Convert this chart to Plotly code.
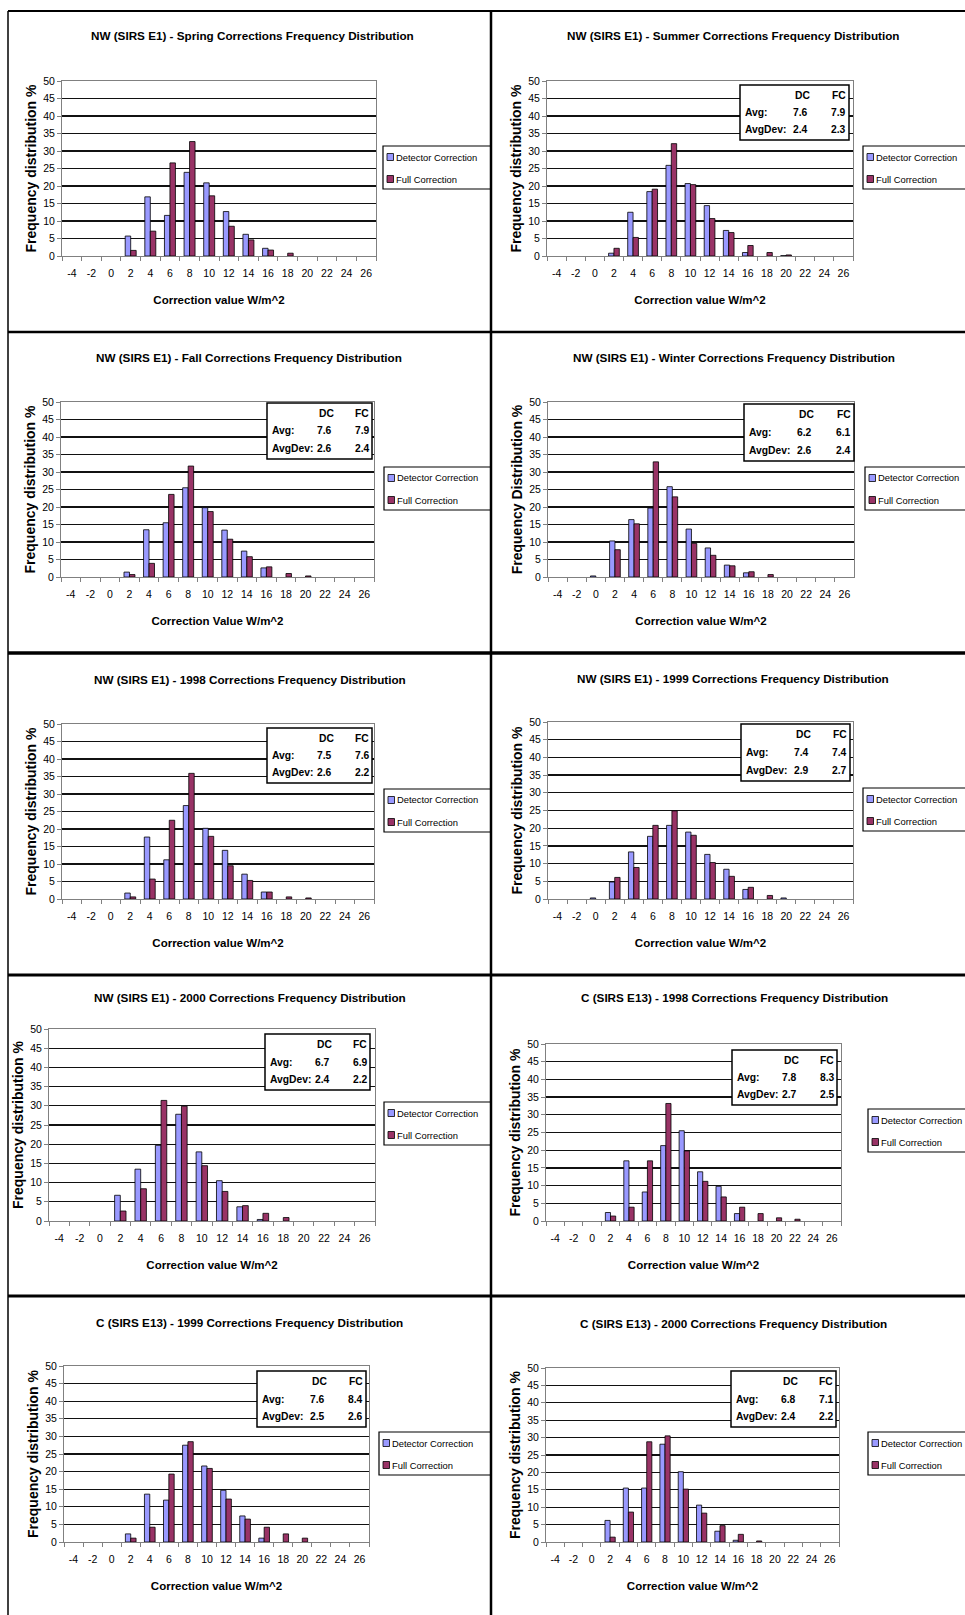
import plotly.graph_objects as go

W, H = 965, 1615

categories = ["-4", "-2", "0", "2", "4", "6", "8", "10", "12", "14", "16", "18", "20", "22", "24", "26"]
series_names = ["Detector Correction", "Full Correction"]
stat_columns = ["DC", "FC"]
stat_rows = ["Avg:", "AvgDev:"]

titles = [
    "NW (SIRS E1) - Spring Corrections Frequency Distribution",
    "NW (SIRS E1) - Summer Corrections Frequency Distribution",
    "NW (SIRS E1) - Fall Corrections Frequency Distribution",
    "NW (SIRS E1) - Winter Corrections Frequency Distribution",
    "NW (SIRS E1) - 1998 Corrections Frequency Distribution",
    "NW (SIRS E1) - 1999 Corrections Frequency Distribution",
    "NW (SIRS E1) - 2000 Corrections Frequency Distribution",
    "C (SIRS E13) - 1998 Corrections Frequency Distribution",
    "C (SIRS E13) - 1999 Corrections Frequency Distribution",
    "C (SIRS E13) - 2000 Corrections Frequency Distribution",
]
x_titles = [
    "Correction value W/m^2", "Correction value W/m^2",
    "Correction Value W/m^2", "Correction value W/m^2",
    "Correction value W/m^2", "Correction value W/m^2",
    "Correction value W/m^2", "Correction value W/m^2",
    "Correction value W/m^2", "Correction value W/m^2",
]
y_titles = [
    "Frequency distribution %", "Frequency distribution %",
    "Frequency distribution %", "Frequency Distribution %",
    "Frequency distribution %", "Frequency distribution %",
    "Frequency distribution %", "Frequency distribution %",
    "Frequency distribution %", "Frequency distribution %",
]

spring_dc = [0, 0, 0, 5.7, 16.9, 11.6, 23.9, 20.9, 12.7, 6.2, 2.2, 0, 0, 0, 0, 0]
spring_fc = [0, 0, 0, 1.6, 7.1, 26.6, 32.7, 17.2, 8.5, 4.6, 1.7, 0.8, 0, 0, 0, 0]

summer_dc = [0, 0, 0, 0.8, 12.5, 18.4, 25.9, 20.7, 14.4, 7.3, 1.0, 0, 0.1, 0, 0, 0]
summer_fc = [0, 0, 0, 2.2, 5.3, 19.1, 32.1, 20.4, 10.7, 6.7, 3.0, 1.0, 0.3, 0, 0, 0]
summer_avg = [7.6, 7.9]
summer_dev = [2.4, 2.3]

fall_dc = [0, 0, 0, 1.4, 13.5, 15.5, 25.5, 19.8, 13.4, 7.4, 2.6, 0, 0, 0, 0, 0]
fall_fc = [0, 0, 0, 0.7, 3.9, 23.6, 31.7, 18.7, 10.8, 5.8, 2.9, 1.0, 0.3, 0, 0, 0]
fall_avg = [7.6, 7.9]
fall_dev = [2.6, 2.4]

winter_dc = [0, 0, 0.3, 10.3, 16.4, 19.7, 25.8, 13.7, 8.3, 3.4, 1.2, 0, 0, 0, 0, 0]
winter_fc = [0, 0, 0, 7.8, 15.2, 32.9, 22.9, 9.6, 6.2, 3.2, 1.5, 0.7, 0, 0, 0, 0]
winter_avg = [6.2, 6.1]
winter_dev = [2.6, 2.4]

nw1998_dc = [0, 0, 0, 1.7, 17.7, 11.2, 26.7, 20.2, 13.9, 7.1, 2.0, 0, 0, 0, 0, 0]
nw1998_fc = [0, 0, 0, 0.6, 5.7, 22.5, 35.9, 17.9, 9.5, 5.3, 2.0, 0.6, 0.3, 0, 0, 0]
nw1998_avg = [7.5, 7.6]
nw1998_dev = [2.6, 2.2]

nw1999_dc = [0, 0, 0.3, 4.8, 13.3, 17.7, 20.8, 18.9, 12.6, 8.4, 2.7, 0, 0.3, 0, 0, 0]
nw1999_fc = [0, 0, 0, 6.1, 8.9, 20.8, 24.9, 18.0, 10.3, 6.4, 3.3, 1.0, 0, 0, 0, 0]
nw1999_avg = [7.4, 7.4]
nw1999_dev = [2.9, 2.7]

nw2000_dc = [0, 0, 0, 6.7, 13.5, 19.7, 27.8, 18.0, 10.5, 3.7, 0.4, 0, 0, 0, 0, 0]
nw2000_fc = [0, 0, 0, 2.6, 8.4, 31.4, 29.9, 14.4, 7.7, 4.0, 2.0, 0.9, 0, 0, 0, 0]
nw2000_avg = [6.7, 6.9]
nw2000_dev = [2.4, 2.2]

c1998_dc = [0, 0, 0, 2.4, 17.0, 8.2, 21.3, 25.5, 13.9, 9.8, 2.1, 0, 0, 0, 0, 0]
c1998_fc = [0, 0, 0, 1.4, 3.9, 17.0, 33.2, 19.8, 11.2, 6.8, 3.9, 2.1, 0.9, 0.5, 0, 0]
c1998_avg = [7.8, 8.3]
c1998_dev = [2.7, 2.5]

c1999_dc = [0, 0, 0, 2.3, 13.6, 11.9, 27.5, 21.6, 14.7, 7.4, 1.1, 0, 0, 0, 0, 0]
c1999_fc = [0, 0, 0, 1.1, 4.2, 19.3, 28.5, 20.9, 12.2, 6.5, 4.2, 2.3, 1.1, 0, 0, 0]
c1999_avg = [7.6, 8.4]
c1999_dev = [2.5, 2.6]

c2000_dc = [0, 0, 0, 6.2, 15.5, 15.5, 28.1, 20.2, 10.6, 3.1, 0.5, 0, 0, 0, 0, 0]
c2000_fc = [0, 0, 0, 1.4, 8.6, 28.8, 30.5, 15.2, 8.3, 4.7, 2.2, 0.3, 0, 0, 0, 0]
c2000_avg = [6.8, 7.1]
c2000_dev = [2.4, 2.2]

dc_series = [spring_dc, summer_dc, fall_dc, winter_dc, nw1998_dc, nw1999_dc,
             nw2000_dc, c1998_dc, c1999_dc, c2000_dc]
fc_series = [spring_fc, summer_fc, fall_fc, winter_fc, nw1998_fc, nw1999_fc,
             nw2000_fc, c1998_fc, c1999_fc, c2000_fc]
avg_stats = [None, summer_avg, fall_avg, winter_avg, nw1998_avg, nw1999_avg,
             nw2000_avg, c1998_avg, c1999_avg, c2000_avg]
dev_stats = [None, summer_dev, fall_dev, winter_dev, nw1998_dev, nw1999_dev,
             nw2000_dev, c1998_dev, c1999_dev, c2000_dev]

# ---------------- layout geometry (pixels) ----------------
geom = [
    dict(plot=(62, 376, 81, 256), title=(252, 35), stats=None, legend=(383, 146), right=491),
    dict(plot=(547, 853, 81, 256), title=(733, 35), stats=(740, 849, 85, 140), legend=(863, 146), right=975),
    dict(plot=(61, 374, 402, 577), title=(249, 357), stats=(267, 372, 403, 459), legend=(384, 467), right=491),
    dict(plot=(548, 854, 402, 577), title=(734, 357), stats=(744, 854, 404, 461), legend=(865, 467), right=975),
    dict(plot=(62, 374, 724, 899), title=(250, 679), stats=(267, 372, 728, 783), legend=(384, 789), right=491),
    dict(plot=(548, 853, 722, 899), title=(733, 678), stats=(741, 850, 724, 781), legend=(863, 788), right=975),
    dict(plot=(49, 375, 1029, 1221), title=(250, 997), stats=(265, 370, 1034, 1090), legend=(384, 1102), right=491),
    dict(plot=(546, 841, 1044, 1221), title=(734, 997), stats=(732, 837, 1050, 1105), legend=(868, 1109), right=975),
    dict(plot=(64, 369, 1366, 1542), title=(250, 1322), stats=(257, 366, 1371, 1427), legend=(379, 1432), right=491),
    dict(plot=(546, 839, 1368, 1542), title=(733, 1323), stats=(731, 836, 1371, 1427), legend=(868, 1432), right=975),
]

FONT = "Liberation Sans, Arial, sans-serif"
DC_COLOR = "#9999FF"
FC_COLOR = "#993366"
AXIS_GRAY = "#808080"


def px(x):
    return x / W


def py(y):
    return 1 - y / H


fig = go.Figure()
shapes = []
annotations = []
layout_axes = {}

for i, g in enumerate(geom):
    n = "" if i == 0 else str(i + 1)
    x0, x1, y0, y1 = g["plot"]
    fig.add_trace(go.Bar(
        x=categories, y=[v if v > 0 else None for v in dc_series[i]], name=series_names[0],
        marker=dict(color=DC_COLOR, line=dict(color="black", width=0.8)),
        xaxis="x" + n, yaxis="y" + n, showlegend=False, offsetgroup="dc",
    ))
    fig.add_trace(go.Bar(
        x=categories, y=[v if v > 0 else None for v in fc_series[i]], name=series_names[1],
        marker=dict(color=FC_COLOR, line=dict(color="black", width=0.8)),
        xaxis="x" + n, yaxis="y" + n, showlegend=False, offsetgroup="fc",
    ))
    layout_axes["xaxis" + n] = dict(
        domain=[px(x0), px(x1)], anchor="y" + n, type="category",
        categoryorder="array", categoryarray=categories,
        tickson="boundaries", ticks="outside", ticklen=4, tickcolor=AXIS_GRAY,
        showline=True, linecolor=AXIS_GRAY, linewidth=1, mirror=True,
        showgrid=False, zeroline=False, automargin=False, tickangle=0,
        tickfont=dict(family=FONT, size=10.5, color="black"),
        ticklabelstandoff=7,
        title=dict(text=x_titles[i], standoff=18,
                   font=dict(family=FONT, size=11.5, color="black", weight="bold")),
    )
    layout_axes["yaxis" + n] = dict(
        domain=[py(y1), py(y0)], anchor="x" + n, range=[0, 50],
        tick0=0, dtick=5, ticks="outside", ticklen=4, tickcolor=AXIS_GRAY,
        showline=True, linecolor=AXIS_GRAY, linewidth=1, mirror=True,
        showgrid=True, gridcolor="#111111", gridwidth=1.3, zeroline=False,
        automargin=False,
        tickfont=dict(family=FONT, size=10.5, color="black"),
        title=dict(text=y_titles[i], standoff=3,
                   font=dict(family=FONT, size=14, color="black", weight="bold")),
    )
    # chart title
    tx, ty = g["title"]
    annotations.append(dict(
        x=px(tx), y=py(ty), xref="paper", yref="paper", text=titles[i],
        showarrow=False, xanchor="center", yanchor="middle",
        font=dict(family=FONT, size=11.7, color="black", weight="bold"),
    ))
    # stats box
    if g["stats"] is not None:
        bx0, bx1, by0, by1 = g["stats"]
        bw, bh = bx1 - bx0, by1 - by0
        shapes.append(dict(type="rect", xref="paper", yref="paper",
                           x0=px(bx0), x1=px(bx1), y0=py(by1), y1=py(by0),
                           line=dict(color="black", width=1.5), fillcolor="white",
                           layer="above"))
        row_y = [by0 + 0.19 * bh, by0 + 0.50 * bh, by0 + 0.81 * bh]
        col_x = [bx0 + 0.57 * bw, bx0 + 0.905 * bw]
        sfont = dict(family=FONT, size=10.3, color="black", weight="bold")
        for c in range(2):
            annotations.append(dict(x=px(col_x[c]), y=py(row_y[0]), xref="paper", yref="paper",
                                    text=stat_columns[c], showarrow=False,
                                    xanchor="center", yanchor="middle", font=sfont))
        for r, (lab, vals) in enumerate(zip(stat_rows, [avg_stats[i], dev_stats[i]])):
            annotations.append(dict(x=px(bx0 + 3), y=py(row_y[r + 1]), xref="paper", yref="paper",
                                    text=lab, showarrow=False,
                                    xanchor="left", yanchor="middle", font=sfont))
            for c in range(2):
                annotations.append(dict(x=px(col_x[c] - (2 if c == 0 else 0)), y=py(row_y[r + 1]),
                                        xref="paper", yref="paper",
                                        text=f"{vals[c]:.1f}", showarrow=False,
                                        xanchor="center", yanchor="middle", font=sfont))
    # legend box (drawn by hand so it can be cut by the cell border like the original)
    lx, ly = g["legend"]
    shapes.append(dict(type="rect", xref="paper", yref="paper",
                       x0=px(lx), x1=px(g["right"]), y0=py(ly + 43), y1=py(ly),
                       line=dict(color="black", width=1.2), fillcolor="white", layer="above"))
    for k, col in enumerate([DC_COLOR, FC_COLOR]):
        cy = ly + 11 + 22 * k
        shapes.append(dict(type="rect", xref="paper", yref="paper",
                           x0=px(lx + 4), x1=px(lx + 10.5), y0=py(cy + 3.5), y1=py(cy - 3.5),
                           line=dict(color="black", width=0.8), fillcolor=col, layer="above"))
        annotations.append(dict(x=px(lx + 11), y=py(cy), xref="paper", yref="paper",
                                text=series_names[k], showarrow=False,
                                xanchor="left", yanchor="middle",
                                font=dict(family=FONT, size=9.4, color="black")))

# table cell borders
for yy, w in [(11, 2), (332, 2.5), (653, 3.5), (975, 3), (1296, 3)]:
    shapes.append(dict(type="line", xref="paper", yref="paper",
                       x0=px(8), x1=1.0, y0=py(yy), y1=py(yy),
                       line=dict(color="black", width=w), layer="above"))
for xx, w in [(8, 1.5), (491, 2.5)]:
    shapes.append(dict(type="line", xref="paper", yref="paper",
                       x0=px(xx), x1=px(xx), y0=py(11), y1=0.0,
                       line=dict(color="black", width=w), layer="above"))

fig.update_layout(
    width=W, height=H,
    margin=dict(l=0, r=0, t=0, b=0, autoexpand=False),
    paper_bgcolor="white", plot_bgcolor="white",
    barmode="group", bargap=0.44, bargroupgap=0.0,
    showlegend=False, hovermode=False,
    shapes=shapes, annotations=annotations,
    **layout_axes,
)

fig.write_html(
    "out.html",
    config={"displayModeBar": False, "staticPlot": True},
    post_script="document.body.style.margin='0';document.body.style.overflow='hidden';",
)
